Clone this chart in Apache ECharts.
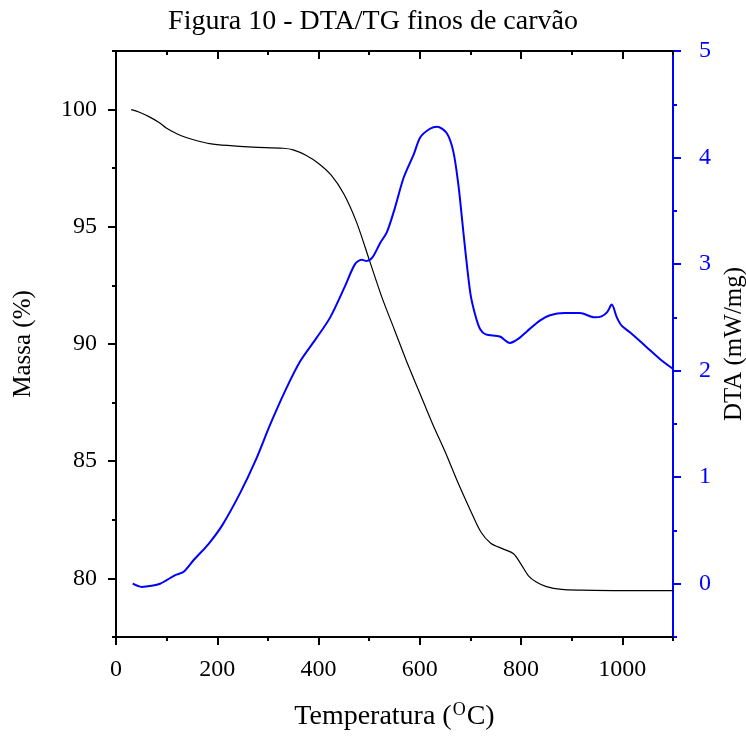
<!DOCTYPE html>
<html><head><meta charset="utf-8">
<script src="https://cdn.jsdelivr.net/npm/echarts@6/dist/echarts.min.js"></script>
<style>html,body{margin:0;padding:0;background:#fff}#c{width:746px;height:736px}</style>
</head><body><div id="c"></div>
<script>
const tgTemp = [30,45,65,85,100,120,140,160,185,220,270,330,350,375,400,425,450,475,500,525,550,575,600,625,650,675,700,720,740,765,785,800,815,830,850,880,920,1000,1100];
const tgMass = [100.0,99.9,99.7,99.45,99.2,98.97,98.8,98.67,98.55,98.47,98.4,98.35,98.28,98.05,97.7,97.2,96.4,95.2,93.6,92.0,90.6,89.2,87.9,86.6,85.4,84.1,82.9,82.0,81.5,81.25,81.05,80.6,80.1,79.85,79.65,79.53,79.5,79.48,79.48];
const dtaTemp = [33,51,70,87,117,133,153,183,210,245,275,305,335,364,395,423,453,472,485,495,506,522,535,551,568,588,601,620,634,653,666,676,683,690,700,709,719,730,758,778,795,812,837,857,886,916,946,959,970,979,989,999,1015,1048,1074,1099];
const dtaVal = [0.0,-0.03,-0.02,0.0,0.08,0.11,0.22,0.375,0.55,0.85,1.15,1.5,1.82,2.09,2.3,2.5,2.8,3.0,3.04,3.03,3.06,3.2,3.3,3.53,3.81,4.03,4.19,4.27,4.29,4.23,4.06,3.75,3.44,3.12,2.72,2.53,2.39,2.34,2.32,2.26,2.3,2.37,2.47,2.52,2.54,2.54,2.5,2.51,2.55,2.62,2.5,2.42,2.36,2.22,2.11,2.02];
const xMajor = [0,200,400,600,800,1000];
const xMinor = [100,300,500,700,900,1100];
const massMajor = [80,85,90,95,100];
const massMinor = [77.5,82.5,87.5,92.5,97.5,102.5];
const dtaMajor = [0,1,2,3,4,5];
const dtaMinor = [-0.5,0.5,1.5,2.5,3.5,4.5];

const FONT = 'Liberation Serif';
const chart = echarts.init(document.getElementById('c'), null, {renderer:'canvas'});
const blk = {color:'#000', width:2};
const blu = {color:'#0000ff', width:2};
const fmt = v => String(v);
function xAx(pos, ticks, len, inside, labels, extra) {
  return Object.assign({
    type:'value', position:pos, min:0, max:1100, gridIndex:0,
    axisLine:{show:true, onZero:false, lineStyle:blk},
    axisTick:{show:true, inside:inside, length:len, customValues:ticks, lineStyle:blk},
    axisLabel: labels ? {show:true, customValues:xMajor, formatter:fmt, fontFamily:FONT, fontSize:24, color:'#000', margin:21} : {show:false},
    splitLine:{show:false}
  }, extra||{});
}
function yAx(pos, min, max, ticks, len, style, labels, margin, extra) {
  return Object.assign({
    type:'value', position:pos, min:min, max:max,
    axisLine:{show:true, onZero:false, lineStyle:style},
    axisTick:{show:true, inside:false, length:len, customValues:ticks, lineStyle:style},
    axisLabel: labels ? {show:true, customValues:labels, formatter:fmt, fontFamily:FONT, fontSize:24, color:style.color, margin:margin} : {show:false},
    splitLine:{show:false}
  }, extra||{});
}
chart.setOption({
  animation:false,
  title:{text:'Figura 10 - DTA/TG finos de carvão', left:'center', top:3,
    textStyle:{fontFamily:FONT, fontSize:28, fontWeight:'normal', color:'#000'}},
  grid:{left:116, right:73, top:51, bottom:99, containLabel:false, outerBoundsMode:'none'},
  xAxis:[
    xAx('bottom', xMajor, 8, false, true, {
      name:'Temperatura ({sup|O}C)', nameLocation:'middle', nameGap:64,
      nameTextStyle:{fontFamily:FONT, fontSize:28, color:'#000',
        rich:{sup:{fontFamily:FONT, fontSize:18, color:'#000', padding:[0,1,14,1]}}}
    }),
    xAx('bottom', xMinor, 4, false, false),
    xAx('top', xMajor, 8, true, false),
    xAx('top', xMinor, 4, true, false)
  ],
  yAxis:[
    yAx('left', 77.5, 102.5, massMajor, 8, blk, massMajor, 19, {
      name:'Massa (%)', nameLocation:'middle', nameGap:80, nameRotate:90,
      nameTextStyle:{fontFamily:FONT, fontSize:25, color:'#000'}}),
    yAx('left', 77.5, 102.5, massMinor, 4, blk, null, 0),
    yAx('right', -0.5, 5, dtaMajor, 8, blu, dtaMajor, 26, {
      name:'DTA (mW/mg)', nameLocation:'middle', nameGap:47, nameRotate:90,
      nameTextStyle:{fontFamily:FONT, fontSize:25, color:'#000'}}),
    yAx('right', -0.5, 5, dtaMinor, 4, blu, null, 0)
  ],
  series:[
    {type:'line', name:'TG', xAxisIndex:0, yAxisIndex:0, showSymbol:false, smooth:0.3,
      lineStyle:{color:'#000', width:1.2}, data:tgTemp.map((t,i)=>[t,tgMass[i]])},
    {type:'line', name:'DTA', xAxisIndex:0, yAxisIndex:2, showSymbol:false, smooth:0.3,
      lineStyle:{color:'#0000ff', width:2}, data:dtaTemp.map((t,i)=>[t,dtaVal[i]])}
  ]
});
</script></body></html>
